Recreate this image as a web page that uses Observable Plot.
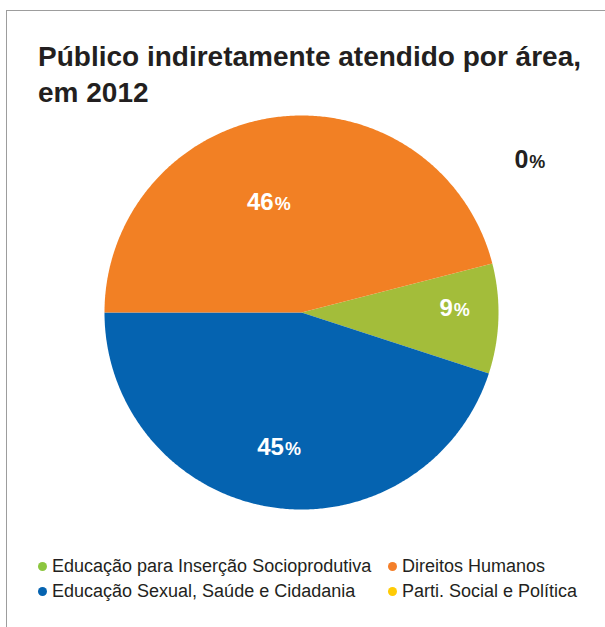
<!DOCTYPE html>
<html><head><meta charset="utf-8">
<script src="https://cdn.jsdelivr.net/npm/d3@7"></script>
<script src="https://cdn.jsdelivr.net/npm/@observablehq/plot@0.6"></script>
<style>
body{margin:0;background:#fff;font-family:"Liberation Sans",Arial,sans-serif;}
#wrap{position:relative;width:605px;height:627px;overflow:hidden;}
#frame{position:absolute;left:6px;top:10px;width:800px;height:800px;border-left:1.5px solid #9d9d9d;border-top:1.5px solid #9d9d9d;}
#title{position:absolute;left:38px;top:39px;font-weight:bold;font-size:28px;line-height:36px;color:#231f20;margin:0;white-space:nowrap;}
#chart{position:absolute;left:0;top:110px;}
#legend{position:absolute;left:38px;top:554px;display:grid;grid-template-columns:350px 220px;grid-auto-rows:25px;font-size:18px;line-height:25px;color:#231f20;}
.item{display:flex;align-items:center;white-space:nowrap;}
.dot{width:9px;height:9px;border-radius:50%;margin-right:5px;flex:none;}
</style>
</head><body>
<div id="wrap">
  <div id="frame"></div>
  <h1 id="title"></h1>
  <div id="chart"></div>
  <div id="legend"></div>
</div>
<script>
const titleText = "Público indiretamente atendido por área,\nem 2012";
const categories = ["Educação para Inserção Socioprodutiva","Educação Sexual, Saúde e Cidadania","Direitos Humanos","Parti. Social e Política"];
const values = [9, 45, 46, 0];
const sliceColors = ["#a3bd3a","#0563b0","#f28024","#ffc90e"];
const legendColors = ["#8cc63f","#0563b0","#f47f2a","#ffcb05"];
const legendOrder = [0, 2, 1, 3];

document.getElementById("title").innerHTML = titleText.split("\n").join("<br>");

const rows = categories.map((c, i) => ({cat: c, value: values[i]}));
const startDeg = 75.6;
const pie = d3.pie().sort(null).value(d => d.value)
  .startAngle(startDeg * Math.PI / 180)
  .endAngle(startDeg * Math.PI / 180 + 2 * Math.PI);
const arcs = pie(rows);

const points = [];
arcs.forEach(a => {
  if (a.endAngle - a.startAngle <= 0) return;
  points.push({x: 0, y: 0, cat: a.data.cat});
  const n = Math.ceil((a.endAngle - a.startAngle) / (Math.PI / 360));
  for (let k = 0; k <= n; k++) {
    const t = a.startAngle + (a.endAngle - a.startAngle) * k / n;
    points.push({x: Math.sin(t), y: Math.cos(t), cat: a.data.cat});
  }
  points.push({x: 0, y: 0, cat: a.data.cat});
});

const labels = arcs.map(a => {
  const m = (a.startAngle + a.endAngle) / 2;
  return {x: 0.7 * Math.sin(m), y: 0.7 * Math.cos(m), num: String(a.data.value), cat: a.data.cat};
});

function labelMarks(i, dx, dy, color, big, small) {
  const d = [labels[i]];
  return [
    Plot.text(d, {x: "x", y: "y", text: "num", textAnchor: "end", lineAnchor: "bottom", dx, dy,
      fontSize: big, fontWeight: "bold", fill: color, fontFamily: "Liberation Sans, Arial, sans-serif"}),
    Plot.text(d, {x: "x", y: "y", text: () => "%", textAnchor: "start", lineAnchor: "bottom", dx: dx + 1, dy,
      fontSize: small, fontWeight: "bold", fill: color, fontFamily: "Liberation Sans, Arial, sans-serif"})
  ];
}

const chart = Plot.plot({
  width: 605, height: 410, margin: 0,
  style: {background: "transparent", overflow: "visible"},
  x: {domain: [-1, 1], range: [104, 498], axis: null},
  y: {domain: [-1, 1], range: [399, 5], axis: null},
  color: {domain: categories, range: sliceColors},
  marks: [
    Plot.line(points, {x: "x", y: "y", z: "cat", fill: "cat", stroke: "none", curve: "linear"}),
    ...labelMarks(0, 13.5, -1.3, "white", 24, 18),
    ...labelMarks(1, 4, 6.7, "white", 24, 18),
    ...labelMarks(2, -10.5, 34.6, "white", 24, 18),
    ...labelMarks(3, 93.3, -110.7, "#231f20", 25, 18)
  ]
});
document.getElementById("chart").appendChild(chart);

const legend = document.getElementById("legend");
legendOrder.forEach(i => {
  const item = document.createElement("div");
  item.className = "item";
  const dot = document.createElement("span");
  dot.className = "dot";
  dot.style.background = legendColors[i];
  const txt = document.createElement("span");
  txt.textContent = categories[i];
  item.appendChild(dot); item.appendChild(txt);
  legend.appendChild(item);
});
</script>
</body></html>
